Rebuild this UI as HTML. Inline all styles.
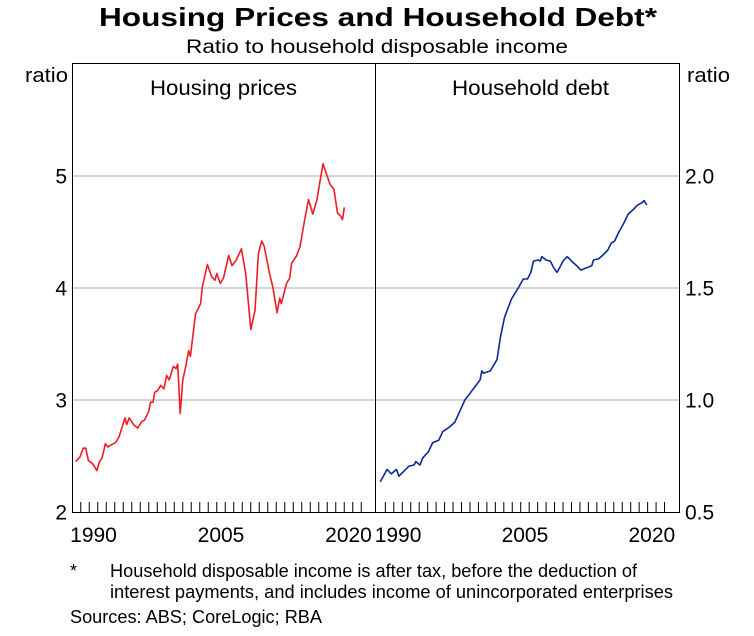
<!DOCTYPE html>
<html><head><meta charset="utf-8"><style>
body{margin:0;background:#fff;width:754px;height:631px;overflow:hidden;font-family:"Liberation Sans",Arial,sans-serif;}
svg text{font-family:"Liberation Sans",Arial,sans-serif;fill:#000;}
</style></head><body>
<svg id="chart" width="754" height="631" xmlns="http://www.w3.org/2000/svg">
<text x="99" y="26" font-size="26" font-weight="bold" textLength="558" lengthAdjust="spacingAndGlyphs">Housing Prices and Household Debt*</text>
<text x="186" y="53" font-size="19" textLength="382" lengthAdjust="spacingAndGlyphs">Ratio to household disposable income</text>
<g id="grid"></g>
<g id="ticks"></g>
<g id="series"></g>
<rect x="72.5" y="63.5" width="303" height="449" fill="none" stroke="#000" stroke-width="1"/>
<rect x="375.5" y="63.5" width="304" height="449" fill="none" stroke="#000" stroke-width="1"/>
<text x="25" y="82" font-size="20" textLength="43" lengthAdjust="spacingAndGlyphs">ratio</text>
<text x="687" y="82" font-size="20" textLength="43" lengthAdjust="spacingAndGlyphs">ratio</text>
<text x="150" y="95" font-size="21" textLength="147" lengthAdjust="spacingAndGlyphs">Housing prices</text>
<text x="452" y="95" font-size="21" textLength="157" lengthAdjust="spacingAndGlyphs">Household debt</text>
<g id="labels"></g>
<text x="70" y="577" font-size="18">*</text>
<text x="110" y="577" font-size="18" textLength="527" lengthAdjust="spacingAndGlyphs">Household disposable income is after tax, before the deduction of</text>
<text x="110" y="598" font-size="18" textLength="563" lengthAdjust="spacingAndGlyphs">interest payments, and includes income of unincorporated enterprises</text>
<text x="70" y="623" font-size="18" textLength="252" lengthAdjust="spacingAndGlyphs">Sources: ABS; CoreLogic; RBA</text>
</svg>
<script>
const leftTicks=[2,3,4,5];
const rightTicks=[0.5,1.0,1.5,2.0];
const yearLabels=[1990,2005,2020];
const housingYears=[1988.4,1988.9,1989.3,1989.6,1989.9,1990.4,1990.9,1991.2,1991.5,1991.9,1992.2,1992.6,1993.1,1993.5,1994.2,1994.4,1994.7,1995.2,1995.7,1996.2,1996.5,1997.0,1997.2,1997.5,1997.7,1998.0,1998.4,1998.8,1999.1,1999.4,1999.9,2000.2,2000.4,2000.7,2001.0,2001.3,2001.7,2001.9,2002.5,2003.1,2003.3,2003.9,2004.4,2004.8,2005.0,2005.4,2005.8,2006.4,2006.8,2007.3,2007.9,2008.4,2009.0,2009.5,2009.9,2010.3,2010.6,2011.2,2011.6,2012.1,2012.4,2012.6,2013.2,2013.6,2013.8,2014.4,2014.8,2015.3,2015.8,2016.3,2016.8,2017.1,2017.5,2017.9,2018.3,2018.8,2019.2,2019.6,2019.8,2020.0];
const housingValues=[2.45,2.49,2.57,2.57,2.46,2.43,2.37,2.45,2.48,2.61,2.58,2.60,2.62,2.67,2.84,2.78,2.84,2.78,2.75,2.81,2.82,2.90,2.98,2.98,3.07,3.08,3.13,3.10,3.22,3.18,3.30,3.28,3.32,2.88,3.18,3.28,3.44,3.39,3.77,3.86,4.01,4.21,4.10,4.07,4.13,4.04,4.09,4.29,4.20,4.25,4.35,4.13,3.63,3.80,4.31,4.42,4.37,4.13,4.01,3.78,3.91,3.86,4.04,4.09,4.22,4.29,4.37,4.59,4.79,4.66,4.79,4.93,5.11,5.02,4.93,4.88,4.67,4.64,4.61,4.72];
const debtYears=[1988.4,1989.2,1989.7,1990.3,1990.6,1991.4,1991.8,1992.4,1992.6,1993.1,1993.4,1994.1,1994.6,1995.3,1995.8,1996.6,1997.2,1997.8,1998.4,1999.0,1999.6,2000.2,2000.4,2000.6,2001.4,2002.2,2002.6,2003.1,2003.9,2004.7,2005.3,2005.8,2006.2,2006.5,2007.1,2007.3,2007.5,2008.0,2008.5,2008.9,2009.3,2009.6,2010.0,2010.5,2011.0,2011.6,2012.1,2012.8,2013.4,2013.6,2014.2,2014.8,2015.3,2015.7,2016.1,2016.6,2017.2,2017.7,2018.3,2018.8,2019.3,2019.6,2019.9];
const debtValues=[0.635,0.69,0.67,0.69,0.66,0.69,0.705,0.71,0.725,0.71,0.74,0.77,0.81,0.82,0.86,0.88,0.90,0.95,1.00,1.03,1.06,1.09,1.13,1.12,1.13,1.18,1.28,1.37,1.45,1.50,1.54,1.54,1.57,1.62,1.625,1.62,1.64,1.625,1.62,1.59,1.57,1.59,1.62,1.64,1.62,1.60,1.58,1.59,1.60,1.625,1.63,1.65,1.67,1.70,1.71,1.75,1.79,1.83,1.85,1.87,1.88,1.89,1.87];
const NS="http://www.w3.org/2000/svg";
const xL=y=>72.25+(y-1988)*8.5;
const xR=y=>376.9+(y-1988)*8.46;
const yL=v=>512-(v-2)*112;
const yR=v=>512-(v-0.5)*224;
function mk(t,a){const e=document.createElementNS(NS,t);for(const k in a)e.setAttribute(k,a[k]);return e;}
const grid=document.getElementById('grid'),ticks=document.getElementById('ticks'),labels=document.getElementById('labels'),series=document.getElementById('series');
leftTicks.forEach(v=>{
 if(v>2){const l=mk('line',{x1:72,x2:680,y1:yL(v),y2:yL(v),stroke:'#aaa','stroke-width':1});
 
 
 grid.appendChild(l);}
 const t=mk('text',{x:67,y:yL(v)+7.5,'font-size':21,'text-anchor':'end'});t.textContent=v;
 
 
 labels.appendChild(t);
});
rightTicks.forEach(v=>{
 const t=mk('text',{x:685,y:yR(v)+7.5,'font-size':21});t.textContent=v.toFixed(1);
 
 
 labels.appendChild(t);
});
for(let yr=1989;yr<=2022;yr++){
 [xL(yr),xR(yr)].forEach(x=>{const l=mk('line',{x1:x,x2:x,y1:502,y2:512,stroke:'#000','stroke-width':1});
 
 
 ticks.appendChild(l);});
}
yearLabels.forEach(yr=>{
 [xL(yr+0.5),xR(yr+0.5)].forEach(x=>{const t=mk('text',{x:x,y:542,'font-size':21,'text-anchor':'middle'});t.textContent=yr;
 
 
 labels.appendChild(t);});
});
function line(xs,vs,fx,fy,color,name){
 const d=xs.map((y,i)=>(i?'L':'M')+fx(y).toFixed(1)+','+fy(vs[i]).toFixed(1)).join('');
 const p=mk('path',{d:d,fill:'none',stroke:color,'stroke-width':1.6,'stroke-linejoin':'round'});
 
 
 series.appendChild(p);
}
line(housingYears,housingValues,xL,yL,'#ee1c25','housing-prices-line');
line(debtYears,debtValues,xR,yR,'#0a2b93','household-debt-line');
</script>
</body></html>
